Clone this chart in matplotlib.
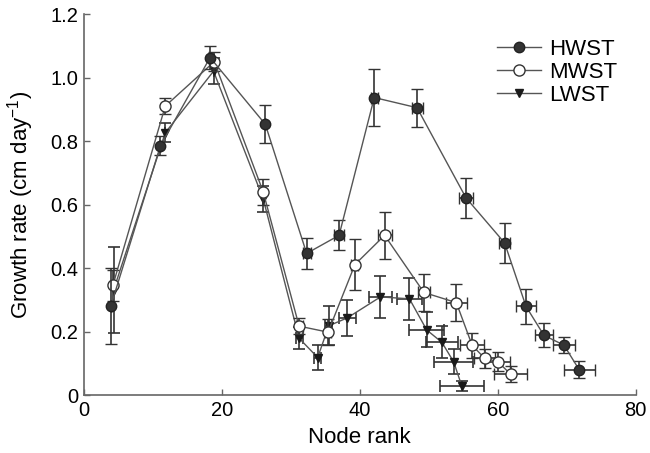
import matplotlib
matplotlib.use("Agg")
import matplotlib.pyplot as plt
from matplotlib.lines import Line2D

plt.rcParams['font.family'] = ['Liberation Sans', 'DejaVu Sans']
plt.rcParams['mathtext.fontset'] = 'custom'
plt.rcParams['mathtext.rm'] = 'Liberation Sans'
plt.rcParams['mathtext.it'] = 'Liberation Sans'
plt.rcParams['mathtext.default'] = 'rm'

# ---- data ----
series_names = ["HWST", "MWST", "LWST"]

hwst_x = [3.9, 11.1, 18.3, 26.3, 32.3, 37.0, 42.1, 48.3, 55.4, 61.0, 64.1, 66.7, 69.6, 71.8]
hwst_y = [0.28, 0.785, 1.063, 0.853, 0.446, 0.503, 0.937, 0.905, 0.621, 0.479, 0.279, 0.188, 0.157, 0.080]
hwst_yerr = [0.12, 0.03, 0.035, 0.06, 0.05, 0.047, 0.09, 0.06, 0.063, 0.064, 0.054, 0.038, 0.025, 0.026]
hwst_xerr = [0, 0, 0, 0, 0.6, 0.7, 0.5, 0.8, 0.97, 0.85, 1.45, 1.33, 1.55, 2.25]

mwst_x = [4.2, 11.8, 18.9, 26.0, 31.2, 35.4, 39.3, 43.6, 49.3, 54.0, 56.3, 58.1, 60.0, 61.9]
mwst_y = [0.345, 0.91, 1.05, 0.64, 0.217, 0.198, 0.411, 0.503, 0.323, 0.291, 0.156, 0.116, 0.105, 0.065]
mwst_yerr = [0.05, 0.025, 0.03, 0.04, 0.025, 0.04, 0.079, 0.075, 0.058, 0.058, 0.04, 0.03, 0.03, 0.025]
mwst_xerr = [0, 0, 0, 0, 0.5, 0.5, 0.5, 1.0, 0.85, 1.5, 1.75, 1.5, 1.8, 2.4]

lwst_x = [4.3, 11.8, 18.8, 26.0, 31.2, 33.9, 35.5, 38.2, 43.0, 47.2, 49.7, 51.9, 53.6, 54.8]
lwst_y = [0.33, 0.826, 1.02, 0.618, 0.179, 0.118, 0.218, 0.243, 0.309, 0.303, 0.205, 0.166, 0.105, 0.028]
lwst_yerr = [0.135, 0.03, 0.04, 0.04, 0.035, 0.038, 0.062, 0.057, 0.067, 0.066, 0.055, 0.05, 0.04, 0.015]
lwst_xerr = [0, 0, 0, 0, 0.5, 0.5, 0.5, 1.2, 1.6, 1.8, 2.5, 2.3, 2.8, 3.2]

x_ticks = [0, 20, 40, 60, 80]
y_ticks = [0, 0.2, 0.4, 0.6, 0.8, 1.0, 1.2]
y_tick_labels = ["0", "0.2", "0.4", "0.6", "0.8", "1.0", "1.2"]

# ---- figure ----
fig = plt.figure(figsize=(6.5, 4.53), dpi=100)
ax = fig.add_axes([0.129, 0.128, 0.849, 0.841])

line_col = '#555555'
err_col = '#333333'

common = dict(ecolor=err_col, elinewidth=1.2, capsize=4, capthick=1.2,
              color=line_col, lw=1.0)

ax.errorbar(lwst_x, lwst_y, yerr=lwst_yerr, xerr=lwst_xerr, marker='v', ms=6,
            mfc='#1a1a1a', mec='#1a1a1a', zorder=3, **common)
ax.errorbar(mwst_x, mwst_y, yerr=mwst_yerr, xerr=mwst_xerr, marker='o', ms=8,
            mfc='white', mec='#333333', mew=1.0, zorder=4, **common)
ax.errorbar(hwst_x, hwst_y, yerr=hwst_yerr, xerr=hwst_xerr, marker='o', ms=7.5,
            mfc='#333333', mec='#222222', mew=1.0, zorder=5, **common)

ax.set_xlim(0, 80)
ax.set_ylim(0, 1.2)
ax.set_xticks(x_ticks)
ax.set_yticks(y_ticks)
ax.set_yticklabels(y_tick_labels)

for s in ['top', 'right']:
    ax.spines[s].set_visible(False)
for s in ['left', 'bottom']:
    ax.spines[s].set_color('#666666')
    ax.spines[s].set_linewidth(1.2)

ax.tick_params(direction='in', length=4, width=1.0, color='#666666',
               labelsize=14.5, pad=4)

ax.set_xlabel("Node rank", fontsize=16, labelpad=5)
ax.set_ylabel("Growth rate (cm day$^{-1}$)", fontsize=16, labelpad=10)

handles = [
    Line2D([], [], color=line_col, lw=1.0, marker='o', ms=7.5, mfc='#333333', mec='#222222'),
    Line2D([], [], color=line_col, lw=1.0, marker='o', ms=8, mfc='white', mec='#333333'),
    Line2D([], [], color=line_col, lw=1.0, marker='v', ms=6, mfc='#1a1a1a', mec='#1a1a1a'),
]
ax.legend(handles, series_names, loc='upper right', bbox_to_anchor=(0.99, 0.97),
          frameon=False, fontsize=16, handlelength=2.0, handletextpad=0.35,
          labelspacing=0.1, borderaxespad=0.2)

fig.savefig("out.png", dpi=100)
